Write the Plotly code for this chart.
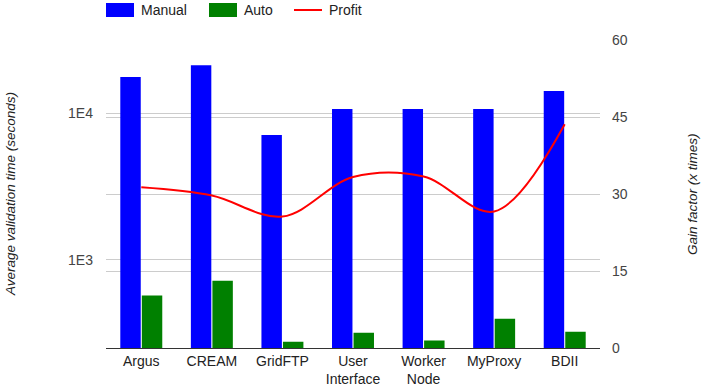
import plotly.graph_objects as go

# data
services = ['Argus', 'CREAM', 'GridFTP', 'User<br>Interface', 'Worker<br>Node', 'MyProxy', 'BDII']
manual = [17700, 21300, 7100, 10700, 10700, 10700, 14200]
auto = [570, 720, 276, 318, 281, 396, 323]
profit = [31.3, 29.7, 25.6, 33.3, 33.4, 26.6, 43.6]

font = 'Liberation Sans, Arial, sans-serif'
blue, green, red = '#0000ff', '#008000', '#ff0000'

data = [
    go.Bar(x=services, y=manual, name='Manual', marker=dict(color=blue, line=dict(width=0))),
    go.Bar(x=services, y=auto, name='Auto', marker=dict(color=green, line=dict(width=0))),
    go.Scatter(x=services, y=profit, name='Profit', yaxis='y2', mode='lines',
               line=dict(color=red, width=2, shape='spline', smoothing=1)),
]

# plot area is 106..600 px wide, 40..348 px tall
def px(x):
    return (x - 106) / 494.0

def py(y):
    return (348 - y) / 308.0

# legend drawn at the top like the original (wide swatches)
shapes = [
    dict(type='rect', xref='paper', yref='paper', x0=px(106), x1=px(134), y0=py(17), y1=py(3),
         fillcolor=blue, line=dict(width=0)),
    dict(type='rect', xref='paper', yref='paper', x0=px(209), x1=px(237), y0=py(17), y1=py(3),
         fillcolor=green, line=dict(width=0)),
    dict(type='line', xref='paper', yref='paper', x0=px(294), x1=px(322), y0=py(10), y1=py(10),
         line=dict(color=red, width=2)),
]
legend_text = [
    dict(text='Manual', x=px(139)),
    dict(text='Auto', x=px(242)),
    dict(text='Profit', x=px(327)),
]
annotations = [dict(text=t['text'], xref='paper', yref='paper', x=t['x'], y=py(10),
                    xanchor='left', yanchor='middle', showarrow=False,
                    font=dict(size=14, color='#222222')) for t in legend_text]
annotations += [
    dict(text='<i>Average validation time (seconds)</i>', xref='paper', yref='paper',
         x=px(10), y=0.5, xanchor='center', yanchor='middle', textangle=-90, showarrow=False,
         font=dict(size=13.5, color='#222222')),
    dict(text='<i>Gain factor (x times)</i>', xref='paper', yref='paper',
         x=px(692), y=0.5, xanchor='center', yanchor='middle', textangle=-90, showarrow=False,
         font=dict(size=13.5, color='#222222')),
]

layout = go.Layout(
    width=703, height=391,
    margin=dict(l=106, r=103, t=40, b=43, autoexpand=False),
    paper_bgcolor='white', plot_bgcolor='white',
    font=dict(family=font, size=14, color='#222222'),
    barmode='group', bargap=0.39, bargroupgap=0.05,
    showlegend=False,
    xaxis=dict(showgrid=False, showline=True, linecolor='#333333', linewidth=1,
               ticks='', tickfont=dict(size=14, color='#222222')),
    yaxis=dict(type='log', range=[2.398, 4.5], tickvals=[1000, 10000], ticktext=['1E3', '1E4'],
               showgrid=True, gridcolor='#cccccc', zeroline=False, ticks='',
               ticklabelstandoff=12, tickfont=dict(size=14, color='#444444')),
    yaxis2=dict(overlaying='y', side='right', range=[0, 60], dtick=15,
                showgrid=True, gridcolor='#cccccc', zeroline=False, ticks='',
                ticklabelstandoff=11, tickfont=dict(size=14, color='#444444')),
    shapes=shapes,
    annotations=annotations,
)

fig = go.Figure(data=data, layout=layout)
# drop the browser's default 8px body margin so the chart fills the window
fig.write_html('out.html', config={'displayModeBar': False},
               post_script="document.body.style.margin='0';")
